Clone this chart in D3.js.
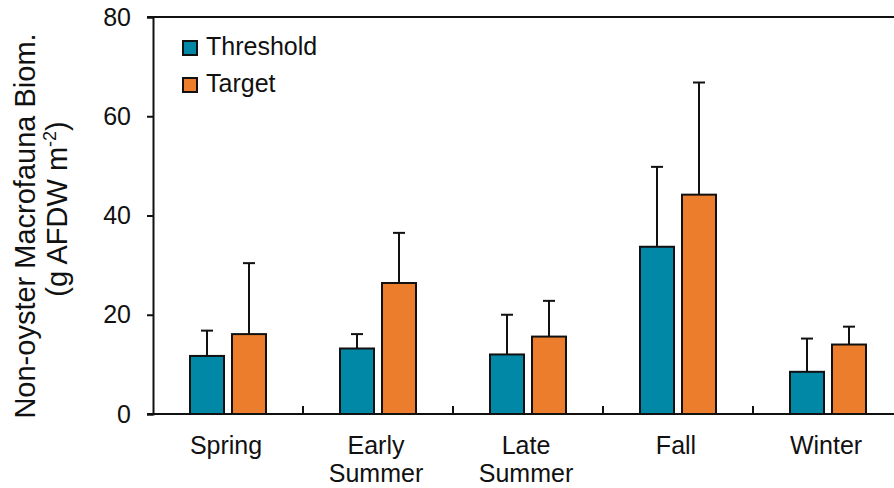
<!DOCTYPE html>
<meta charset="utf-8">
<style>
body { margin: 0; background: #fff; }
svg { display: block; font-family: "Liberation Sans", Arial, sans-serif; }
.bar { stroke: #111; stroke-width: 2; }
.err { stroke: #111; stroke-width: 2; fill: none; }
</style>
<svg width="894" height="488"></svg>
<script src="https://d3js.org/d3.v7.min.js"></script>
<script>

// data
var seasons = ["Spring", "Early Summer", "Late Summer", "Fall", "Winter"];
var series = ["Threshold", "Target"];
var threshold = [11.7, 13.2, 12.0, 33.7, 8.5];
var thresholdErr = [5.1, 2.9, 8.0, 16.1, 6.7];
var target = [16.1, 26.4, 15.6, 44.2, 14.0];
var targetErr = [14.3, 10.1, 7.2, 22.6, 3.6];
var yTicks = [0, 20, 40, 60, 80];
var colors = ["#0088a6", "#ec7d2c"];

var svg = d3.select("svg"),
    width = +svg.attr("width"),
    height = +svg.attr("height");

var x0 = d3.scaleBand()
    .domain(seasons)
    .range([153, 903]);

var x1 = d3.scaleBand()
    .domain(series)
    .range([37, 113])
    .paddingInner(0.1905);

var y = d3.scaleLinear()
    .domain([0, 80])
    .range([414, 17]);

var color = d3.scaleOrdinal().domain(series).range(colors);

var rows = [];
seasons.forEach(function(s, i) {
  rows.push({season: s, key: "Threshold", value: threshold[i], err: thresholdErr[i]});
  rows.push({season: s, key: "Target", value: target[i], err: targetErr[i]});
});

// error bars (upper only) drawn under the bars
var err = svg.append("g").attr("class", "err")
  .selectAll("g")
  .data(rows)
  .enter().append("g")
    .attr("transform", function(d) {
      return "translate(" + (x0(d.season) + x1(d.key) + x1.bandwidth() / 2) + ",0)";
    });

err.append("line")
    .attr("x1", 0).attr("x2", 0)
    .attr("y1", function(d) { return y(d.value); })
    .attr("y2", function(d) { return y(d.value + d.err); });

err.append("line")
    .attr("x1", -6).attr("x2", 6)
    .attr("y1", function(d) { return y(d.value + d.err); })
    .attr("y2", function(d) { return y(d.value + d.err); });

svg.append("g")
  .selectAll("rect")
  .data(rows)
  .enter().append("rect")
    .attr("class", "bar")
    .attr("x", function(d) { return x0(d.season) + x1(d.key); })
    .attr("y", function(d) { return y(d.value); })
    .attr("width", x1.bandwidth())
    .attr("height", function(d) { return y(0) - y(d.value); })
    .attr("fill", function(d) { return color(d.key); });

// y axis
var yAxis = svg.append("g")
    .attr("transform", "translate(153,0)")
    .call(d3.axisLeft(y).tickValues(yTicks).tickSize(6).tickPadding(16));

yAxis.select(".domain").attr("stroke", "#111").attr("stroke-width", 2);
yAxis.selectAll(".tick line").attr("stroke", "#111").attr("stroke-width", 2);
yAxis.selectAll(".tick text")
    .attr("font-family", "Liberation Sans, Arial, sans-serif")
    .attr("font-size", 25)
    .attr("fill", "#111");

// top line and baseline
svg.append("line")
    .attr("x1", 147).attr("x2", width)
    .attr("y1", y(80)).attr("y2", y(80))
    .attr("stroke", "#111").attr("stroke-width", 2);

svg.append("line")
    .attr("x1", 147).attr("x2", width)
    .attr("y1", y(0)).attr("y2", y(0))
    .attr("stroke", "#111").attr("stroke-width", 2);

// category separators pointing up
svg.append("g")
  .selectAll("line")
  .data(seasons.slice(1))
  .enter().append("line")
    .attr("x1", function(d) { return x0(d); })
    .attr("x2", function(d) { return x0(d); })
    .attr("y1", y(0))
    .attr("y2", y(0) - 8)
    .attr("stroke", "#111").attr("stroke-width", 2);

// category labels, two lines where needed
var cat = svg.append("g")
  .selectAll("text")
  .data(seasons)
  .enter().append("text")
    .attr("text-anchor", "middle")
    .attr("font-size", 25)
    .attr("fill", "#111")
    .attr("transform", function(d) {
      return "translate(" + (x0(d) + x0.bandwidth() / 2 - 2) + ",454)";
    });

cat.selectAll("tspan")
  .data(function(d) { return d.split(" "); })
  .enter().append("tspan")
    .attr("x", 0)
    .attr("y", function(d, i) { return i * 28; })
    .text(function(d) { return d; });

// legend
var legend = svg.append("g")
  .selectAll("g")
  .data(series)
  .enter().append("g")
    .attr("transform", function(d, i) { return "translate(183," + (41 + i * 37) + ")"; });

legend.append("rect")
    .attr("width", 14).attr("height", 14)
    .attr("fill", function(d) { return color(d); })
    .attr("stroke", "#111").attr("stroke-width", 2);

legend.append("text")
    .attr("x", 23).attr("y", 14)
    .attr("font-size", 25)
    .attr("fill", "#111")
    .text(function(d) { return d; });

// y title
var title = svg.append("g")
    .attr("transform", "rotate(-90)")
    .attr("font-size", 29)
    .attr("fill", "#111")
    .attr("text-anchor", "middle");

title.append("text")
    .attr("x", -226).attr("y", 35)
    .text("Non-oyster Macrofauna Biom.");

var t2 = title.append("text")
    .attr("x", -209).attr("y", 67);
t2.append("tspan").text("(g AFDW m");
t2.append("tspan").attr("font-size", 18).attr("dy", -11).text("-2");
t2.append("tspan").attr("dy", 11).text(")");

</script>
